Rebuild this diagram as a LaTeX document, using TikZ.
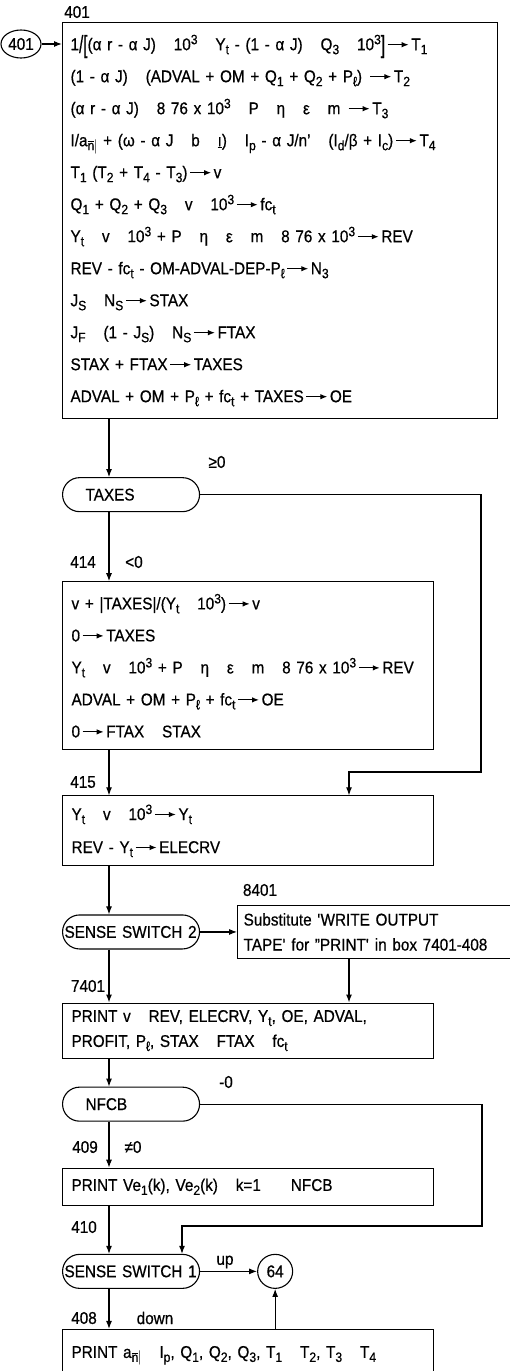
\documentclass[tikz,border=0pt]{standalone}
\usepackage{fontspec}
\setmainfont{Liberation Sans}[FakeStretch=0.9, WordSpace=2.1, FakeBold=0.6]
\usetikzlibrary{arrows.meta, positioning, shapes.geometric}

\newcommand{\ssub}[1]{\raisebox{-4pt}{\fontsize{13.5}{12}\selectfont #1}}
\newcommand{\ssup}[1]{\raisebox{6pt}{\fontsize{13.5}{12}\selectfont #1}}
\newcommand{\gap}{\hspace{1.05em}}
\newcommand{\goesto}{\hspace{2pt}\tikz[baseline=-5.5pt]\draw[-{Latex[length=7pt, width=5.5pt]}, line width=1.2pt] (0pt,0pt) -- (21pt,0pt);\hspace{2pt}}
\newcommand{\annuity}{a\ssub{\ensuremath{\overline{\mbox{n}}\mkern-1mu|}}}
\newcommand{\tallch}[1]{\raisebox{-0.3ex}{\scalebox{1}[1.45]{#1}}}

\begin{document}
\begin{tikzpicture}[x=1pt, y=-1pt,
      box/.style={draw, line width=1.1pt, minimum width=371pt, text width=353pt, inner xsep=9pt, align=left, font=\fontsize{17}{32}\selectfont},
      term/.style={draw, line width=1.1pt, rounded corners=17pt, minimum height=34pt, text width=133pt, inner xsep=2pt, align=left, font=\fontsize{17}{17}\selectfont},
      circ/.style={draw, line width=1.1pt, ellipse, inner sep=1pt, font=\fontsize{17}{17}\selectfont},
      lbl/.style={font=\fontsize{17}{17}\selectfont},
      arrow/.style={-{Latex[length=8pt, width=6pt]}, line width=1.1pt}
    ]
      \useasboundingbox[fill=white] (0,0) rectangle (509,1371);
      % boxes and decisions
      \node[box, anchor=north west, text width=419pt, minimum width=435pt, minimum height=396pt, inner xsep=8pt] (b401) at (62,22) {%
        \mbox{1\tallch{/}\tallch{[}(α r - α J)\gap 10\ssup{3}\gap Y\ssub{t} - (1 - α J)\gap Q\ssub{3}\gap 10\ssup{3}\tallch{]}\goesto T\ssub{1}}\\
        \mbox{(1 - α J)\gap (ADVAL + OM + Q\ssub{1} + Q\ssub{2} + P\ssub{ℓ}) \goesto T\ssub{2}}\\
        \mbox{(α r - α J)\gap 8 76 x 10\ssup{3}\gap P\gap η\gap ε\gap m \goesto T\ssub{3}}\\
        \mbox{I/\annuity{} + (ω - α J\gap b\gap \underline{ı})\gap I\ssub{p} - α J/n'\gap (I\ssub{d}/β + I\ssub{c})\goesto T\ssub{4}}\\
        T\ssub{1} (T\ssub{2} + T\ssub{4} - T\ssub{3})\goesto v\\
        Q\ssub{1} + Q\ssub{2} + Q\ssub{3}\gap v\gap 10\ssup{3}\goesto fc\ssub{t}\\
        \mbox{Y\ssub{t}\gap v\gap 10\ssup{3} + P\gap η\gap ε\gap m\gap 8 76 x 10\ssup{3}\goesto REV}\\
        \mbox{REV - fc\ssub{t} - OM-ADVAL-DEP-P\ssub{ℓ}\goesto N\ssub{3}}\\
        J\ssub{S}\gap N\ssub{S}\goesto STAX\\
        J\ssub{F}\gap (1 - J\ssub{S})\gap N\ssub{S}\goesto FTAX\\
        STAX + FTAX\goesto TAXES\\
        \mbox{ADVAL + OM + P\ssub{ℓ} + fc\ssub{t} + TAXES\goesto OE}};
      \node[circ, minimum width=40pt, minimum height=28pt] (c401) at (21,44) {401};
      \node[term, below=58pt of b401.south west, anchor=north west] (taxes) {\hspace*{21pt}TAXES};
      \node[box, minimum height=168pt, below=69pt of taxes.south west, anchor=north west] (b414) {%
        v + |TAXES|/(Y\ssub{t}\gap 10\ssup{3})\goesto v\\
        0\goesto TAXES\\
        \mbox{Y\ssub{t}\gap v\gap 10\ssup{3} + P\gap η\gap ε\gap m\gap 8 76 x 10\ssup{3}\goesto REV}\\
        ADVAL + OM + P\ssub{ℓ} + fc\ssub{t}\goesto OE\\
        0\goesto FTAX\gap STAX};
      \node[box, minimum height=70pt, font=\fontsize{17}{33}\selectfont, below=45pt of b414.south west, anchor=north west] (b415) {%
        Y\ssub{t}\gap v\gap 10\ssup{3}\goesto Y\ssub{t}\\
        REV - Y\ssub{t}\goesto ELECRV};
      \node[term, below=48pt of b415.south west, anchor=north west] (ss2) {SENSE SWITCH 2};
      \node[box, right=37pt of ss2, minimum width=275pt, text width=263pt, inner xsep=6pt, minimum height=53pt, font=\fontsize{17}{25}\selectfont] (b8401) {%
        \mbox{Substitute \textquotesingle WRITE OUTPUT}\\
        \mbox{TAPE\textquotesingle{} for "PRINT\textquotesingle{} in box 7401-408}};
      \node[box, minimum height=55pt, font=\fontsize{17}{25}\selectfont, below=53pt of ss2.south west, anchor=north west] (b7401) {%
        \mbox{PRINT v\gap REV, ELECRV, Y\ssub{t}, OE, ADVAL,}\\
        PROFIT, P\ssub{ℓ}, STAX\gap FTAX\gap fc\ssub{t}};
      \node[term, below=28pt of b7401.south west, anchor=north west] (nfcb) {\hspace*{21pt}NFCB};
      \node[box, minimum height=37pt, below=46pt of nfcb.south west, anchor=north west] (b409) {%
        PRINT Ve\ssub{1}(k), Ve\ssub{2}(k)\gap k=1\hspace{30pt}NFCB};
      \node[term, below=48pt of b409.south west, anchor=north west] (ss1) {SENSE SWITCH 1};
      \node[circ, minimum width=35pt, minimum height=34pt, right=57pt of ss1] (c64) {64};
      \node[box, minimum height=70pt, font=\fontsize{17}{25}\selectfont, below=40pt of ss1.south west, anchor=north west] (b408) {%
        \mbox{PRINT \annuity\gap I\ssub{p}, Q\ssub{1}, Q\ssub{2}, Q\ssub{3}, T\ssub{1}\gap T\ssub{2}, T\ssub{3}\gap T\ssub{4}}\\
        \mbox{}};
      % labels
      \node[lbl] (l401) at (77,12) {401};
      \node[lbl] (lge) at (217,462) {≥0};
      \node[lbl] (l414) at (83,562) {414};
      \node[lbl] (llt) at (134,562) {<0};
      \node[lbl] (l415) at (83,782) {415};
      \node[lbl] (l8401) at (260,890) {8401};
      \node[lbl] (l7401) at (88,986) {7401};
      \node[lbl] (lm0) at (226,1082) {-0};
      \node[lbl] (l409) at (85,1147) {409};
      \node[lbl] (lne) at (133,1147) {≠0};
      \node[lbl] (l410) at (84,1227) {410};
      \node[lbl] (lup) at (225,1262) {up};
      \node[lbl] (l408) at (84,1318) {408};
      \node[lbl] (ldown) at (155,1318) {down};
      % connectors
      \coordinate (col) at (109,0);
      \coordinate (tloop) at (481,772);
      \coordinate (tdrop) at (349,772);
      \coordinate (nloop) at (482,1226);
      \coordinate (ndrop) at (182,1226);
      \draw[arrow] (c401) -- (b401.west |- c401);
      \draw[arrow] (b401.south -| col) -- (taxes.north -| col);
      \draw[arrow] (taxes.south -| col) -- (b414.north -| col);
      \draw[arrow] (taxes.east) -| (tloop) -- (tdrop) -- (tdrop |- b415.north);
      \draw[arrow] (b414.south -| col) -- (b415.north -| col);
      \draw[arrow] (b415.south -| col) -- (ss2.north -| col);
      \draw[arrow] (ss2) -- (b8401);
      \draw[arrow] (b8401.south -| tdrop) -- (b7401.north -| tdrop);
      \draw[arrow] (ss2.south -| col) -- (b7401.north -| col);
      \draw[arrow] (b7401.south -| col) -- (nfcb.north -| col);
      \draw[arrow] (nfcb.south -| col) -- (b409.north -| col);
      \draw[arrow] (nfcb.east) -| (nloop) -- (ndrop) -- (ndrop |- ss1.north);
      \draw[arrow] (b409.south -| col) -- (ss1.north -| col);
      \draw[arrow] (ss1) -- (c64);
      \draw[arrow] (ss1.south -| col) -- (b408.north -| col);
      \draw[arrow] (b408.north -| c64) -- (c64);
    \end{tikzpicture}
\end{document}
